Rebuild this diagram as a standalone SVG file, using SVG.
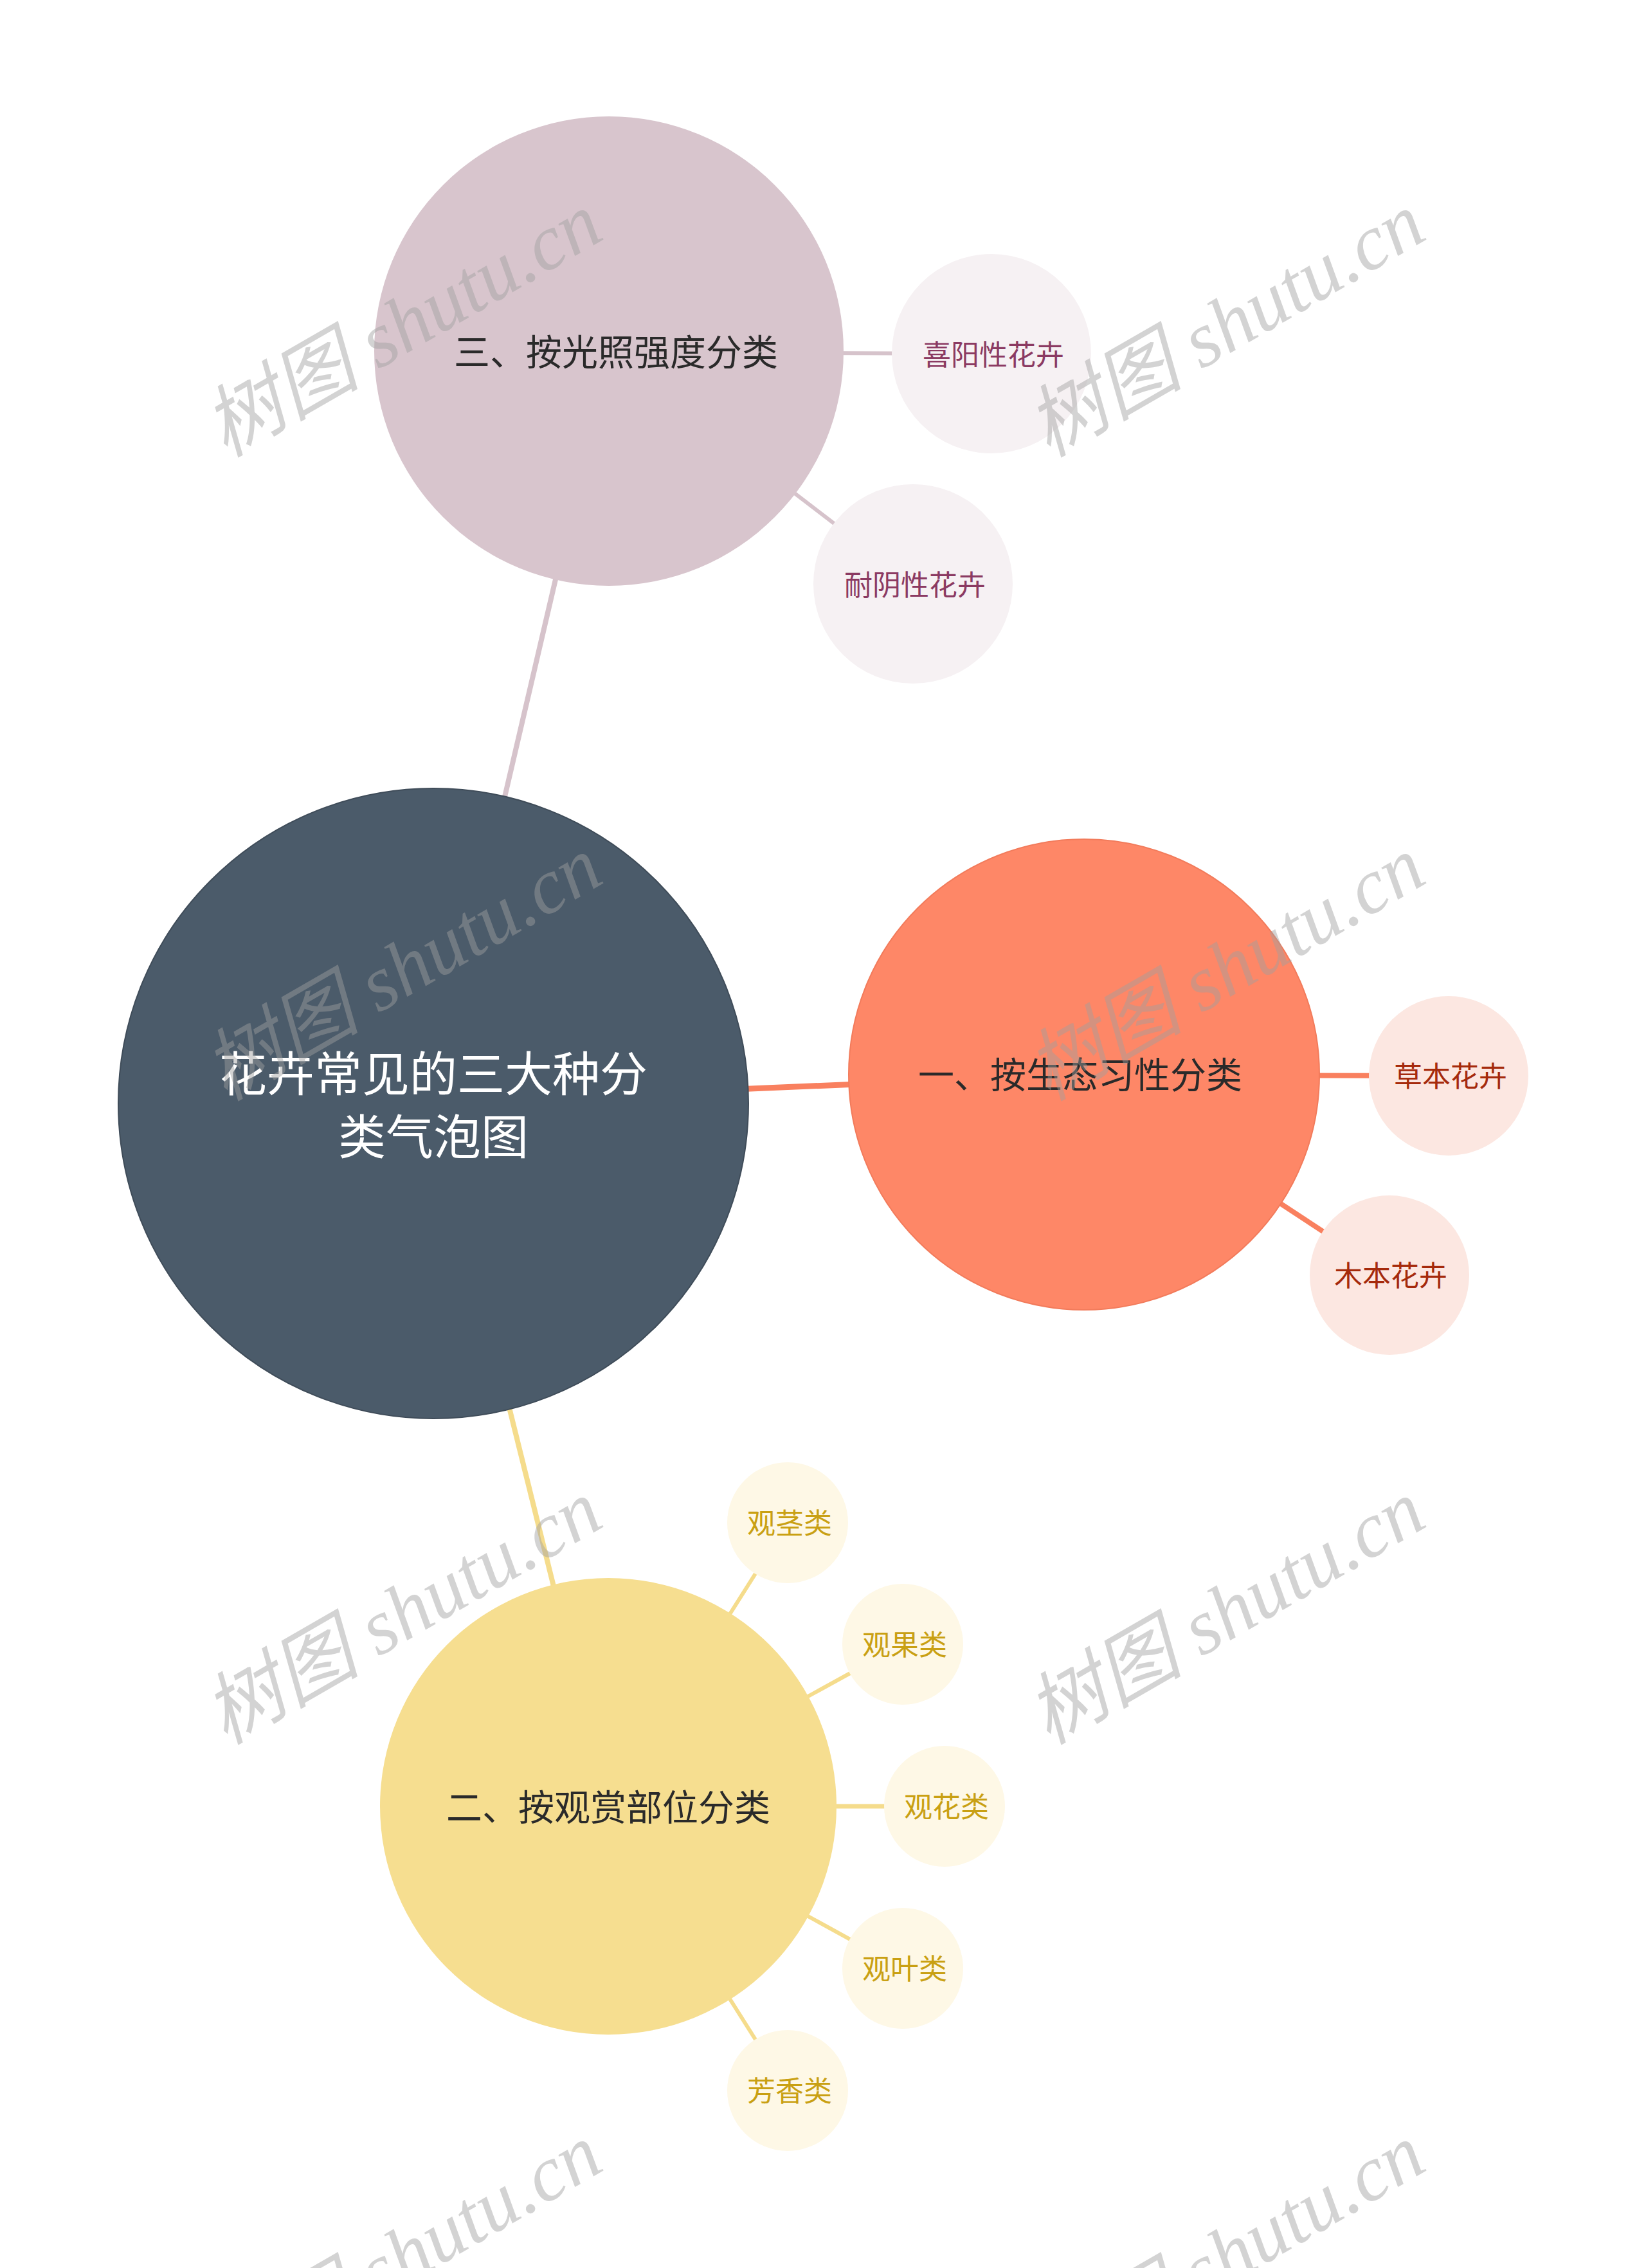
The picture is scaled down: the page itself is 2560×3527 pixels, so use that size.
<svg xmlns="http://www.w3.org/2000/svg" width="2560" height="3527" viewBox="0 0 2560 3527">
<style>
text{font-family:"Noto Sans CJK SC","Noto Sans",sans-serif;text-anchor:middle;dominant-baseline:central}
.root{fill:#4b5b6a;stroke:#3f4c59;stroke-width:2}
.rootT{fill:#ffffff;font-size:74px}
.midT{fill:#2a2a2a;font-size:56px}
.c3{fill:#d8c5cd}
.c1{fill:#fe8767;stroke:#f27b5b;stroke-width:2}
.c2{fill:#f6de90}
.l3{fill:#f6f1f3}
.l1{fill:#fce7e1}
.l2{fill:#fef8e6}
.t3{fill:#8b3a62;font-size:44px}
.t1{fill:#a52a0c;font-size:44px}
.t2{fill:#c9a013;font-size:44px}
.e3{stroke:#d6c3cb;fill:none}
.e1{stroke:#f9805f;fill:none}
.e2{stroke:#f5dc8c;fill:none}
.wm{font-family:"Liberation Serif","Noto Sans CJK SC",serif;font-style:italic;font-size:122px;fill:#a0a0a0;opacity:0.45;dominant-baseline:alphabetic}
</style>
<rect width="2560" height="3527" fill="#ffffff"/>
<g id="connectors">
<line class="e3" x1="674" y1="1714" x2="947" y2="546" stroke-width="8"/>
<line class="e1" x1="674" y1="1714" x2="1686" y2="1671" stroke-width="9"/>
<line class="e2" x1="674" y1="1714" x2="946" y2="2809" stroke-width="8"/>
<line class="e3" x1="947" y1="548" x2="1542" y2="550" stroke-width="6"/>
<line class="e3" x1="947" y1="546" x2="1420" y2="908" stroke-width="6"/>
<line class="e1" x1="1686" y1="1672" x2="2253" y2="1673" stroke-width="8"/>
<line class="e1" x1="1686" y1="1671" x2="2161" y2="1983" stroke-width="8"/>
<line class="e2" x1="946" y1="2809" x2="1225" y2="2368" stroke-width="6"/>
<line class="e2" x1="946" y1="2809" x2="1404" y2="2557" stroke-width="6"/>
<line class="e2" x1="946" y1="2809" x2="1469" y2="2809" stroke-width="7"/>
<line class="e2" x1="946" y1="2809" x2="1404" y2="3061" stroke-width="6"/>
<line class="e2" x1="946" y1="2809" x2="1225" y2="3251" stroke-width="6"/>
</g>
<g id="root">
<circle class="root" cx="674" cy="1716" r="490"/>
<text class="rootT" x="674" y="1664">花卉常见的三大种分</text>
<text class="rootT" x="674" y="1762">类气泡图</text>
</g>
<g id="n3">
<circle class="c3" cx="947" cy="546" r="365"/>
<text class="midT" x="958" y="543">三、按光照强度分类</text>
</g>
<g id="n3a">
<circle class="l3" cx="1542" cy="550" r="155"/>
<text class="t3" x="1545" y="549">喜阳性花卉</text>
</g>
<g id="n3b">
<circle class="l3" cx="1420" cy="908" r="155"/>
<text class="t3" x="1423" y="907">耐阴性花卉</text>
</g>
<g id="n1">
<circle class="c1" cx="1686" cy="1671" r="366"/>
<text class="midT" x="1680" y="1667">一、按生态习性分类</text>
</g>
<g id="n1a">
<circle class="l1" cx="2253" cy="1673" r="124"/>
<text class="t1" x="2256" y="1671">草本花卉</text>
</g>
<g id="n1b">
<circle class="l1" cx="2161" cy="1983" r="124"/>
<text class="t1" x="2163" y="1981">木本花卉</text>
</g>
<g id="n2">
<circle class="c2" cx="946" cy="2809" r="355"/>
<text class="midT" x="946" y="2806">二、按观赏部位分类</text>
</g>
<g id="n2a">
<circle class="l2" cx="1225" cy="2368" r="94"/>
<text class="t2" x="1228" y="2366">观茎类</text>
</g>
<g id="n2b">
<circle class="l2" cx="1404" cy="2557" r="94"/>
<text class="t2" x="1407" y="2555">观果类</text>
</g>
<g id="n2c">
<circle class="l2" cx="1469" cy="2809" r="94"/>
<text class="t2" x="1472" y="2807">观花类</text>
</g>
<g id="n2d">
<circle class="l2" cx="1404" cy="3061" r="94"/>
<text class="t2" x="1407" y="3059">观叶类</text>
</g>
<g id="n2e">
<circle class="l2" cx="1225" cy="3251" r="94"/>
<text class="t2" x="1228" y="3249">芳香类</text>
</g>
<g id="watermarks">
<text class="wm" transform="translate(647,541) rotate(-30)">树图 shutu.cn</text>
<text class="wm" transform="translate(1927,541) rotate(-30)">树图 shutu.cn</text>
<text class="wm" transform="translate(647,1542) rotate(-30)">树图 shutu.cn</text>
<text class="wm" transform="translate(1927,1542) rotate(-30)">树图 shutu.cn</text>
<text class="wm" transform="translate(647,2543) rotate(-30)">树图 shutu.cn</text>
<text class="wm" transform="translate(1927,2543) rotate(-30)">树图 shutu.cn</text>
<text class="wm" transform="translate(647,3544) rotate(-30)">树图 shutu.cn</text>
<text class="wm" transform="translate(1927,3544) rotate(-30)">树图 shutu.cn</text>
</g>
</svg>
